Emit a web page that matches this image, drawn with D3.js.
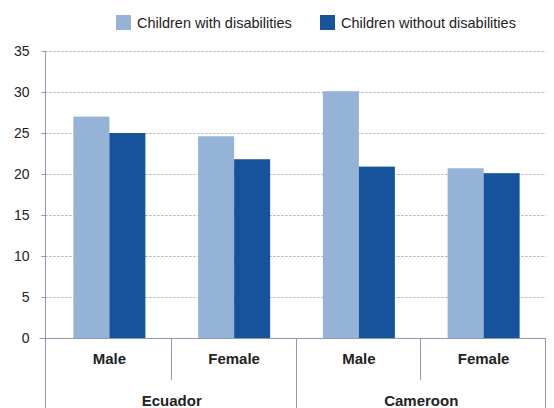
<!DOCTYPE html>
<html>
<head>
<meta charset="utf-8">
<script src="https://cdn.jsdelivr.net/npm/d3@7"></script>
<style>
  body { margin: 0; background: #fff; }
  text { font-family: "Liberation Sans Narrow", "Arial Narrow", "Liberation Sans", sans-serif; fill: #222; }
</style>
</head>
<body>
<script>
const countries = ["Ecuador", "Cameroon"];
const sexes = ["Male", "Female"];
const seriesNames = ["Children with disabilities", "Children without disabilities"];
const withDis = [27.0, 24.6, 30.1, 20.7];
const withoutDis = [25.0, 21.8, 20.9, 20.1];
const yTicks = [0, 5, 10, 15, 20, 25, 30, 35];
const colors = ["#95b3d7", "#16539b"];

const w = 554, h = 408;
const axisX = 45.5;
const margin = { left: 47, right: 8, top: 51, bottom: 70 };

const cats = [];
countries.forEach(c => sexes.forEach(s => cats.push(c + "|" + s)));

const svg = d3.select("body").append("svg").attr("width", w).attr("height", h);

const x = d3.scaleBand().domain(cats).range([margin.left, w - margin.right]);
const xInner = d3.scaleBand().domain([0, 1]).range([0, 72]);
const y = d3.scaleLinear().domain([0, 35]).range([h - margin.bottom, margin.top]);

const axisColor = "#8e9bb0";

// grid
svg.append("g").selectAll("line").data(yTicks.filter(d => d > 0)).enter().append("line")
  .attr("x1", axisX).attr("x2", w - margin.right)
  .attr("y1", d => y(d) + 0.5).attr("y2", d => y(d) + 0.5)
  .attr("stroke", "#a6a6a6").attr("stroke-dasharray", "2,2");

// bars
const values = [withDis, withoutDis];
values.forEach((vals, si) => {
  svg.append("g").selectAll("rect").data(vals).enter().append("rect")
    .attr("x", (d, i) => x(cats[i]) + x.bandwidth() / 2 - 36 + xInner(si))
    .attr("width", xInner.bandwidth())
    .attr("y", d => y(d))
    .attr("height", d => y(0) - y(d))
    .attr("fill", colors[si]);
});

// y axis
const yAxis = svg.append("g").attr("transform", `translate(${axisX},0)`)
  .call(d3.axisLeft(y).tickValues(yTicks).tickSize(4).tickPadding(12));
yAxis.select(".domain").remove();
yAxis.selectAll(".tick line").attr("stroke", axisColor);
yAxis.selectAll(".tick text").attr("font-size", 14).attr("fill", "#222");
svg.append("line").attr("x1", axisX).attr("x2", axisX)
  .attr("y1", margin.top).attr("y2", y(0) + 10).attr("stroke", axisColor);

// x axis baseline
svg.append("line").attr("x1", axisX - 6).attr("x2", w - margin.right)
  .attr("y1", y(0) + 0.5).attr("y2", y(0) + 0.5).attr("stroke", axisColor);

// category separators
const bounds = cats.map(c => x(c)).concat([x(cats[cats.length - 1]) + x.bandwidth()]);
svg.append("g").selectAll("line").data(bounds).enter().append("line")
  .attr("x1", (d, i) => i === 0 ? axisX : Math.round(d) - 0.5)
  .attr("x2", (d, i) => i === 0 ? axisX : Math.round(d) - 0.5)
  .attr("y1", y(0))
  .attr("y2", (d, i) => (i % 2 === 0 ? h : y(0) + 42))
  .attr("stroke", axisColor);

// labels
svg.append("g").selectAll("text").data(cats).enter().append("text")
  .attr("x", d => x(d) + x.bandwidth() / 2).attr("y", y(0) + 26)
  .attr("text-anchor", "middle").attr("font-size", 15).attr("font-weight", "bold")
  .text(d => d.split("|")[1]);

svg.append("g").selectAll("text").data(countries).enter().append("text")
  .attr("x", (d, i) => x(d + "|" + sexes[0]) + x.bandwidth())
  .attr("y", y(0) + 68)
  .attr("text-anchor", "middle").attr("font-size", 15).attr("font-weight", "bold")
  .text(d => d);

// legend
const legX = [116, 320];
const leg = svg.append("g").selectAll("g").data(seriesNames).enter().append("g")
  .attr("transform", (d, i) => `translate(${legX[i]},15)`);
leg.append("rect").attr("width", 15).attr("height", 15).attr("fill", (d, i) => colors[i]);
leg.append("text").attr("x", 21).attr("y", 13).attr("font-size", 14.5).attr("fill", "#333").text(d => d);
</script>
</body>
</html>
